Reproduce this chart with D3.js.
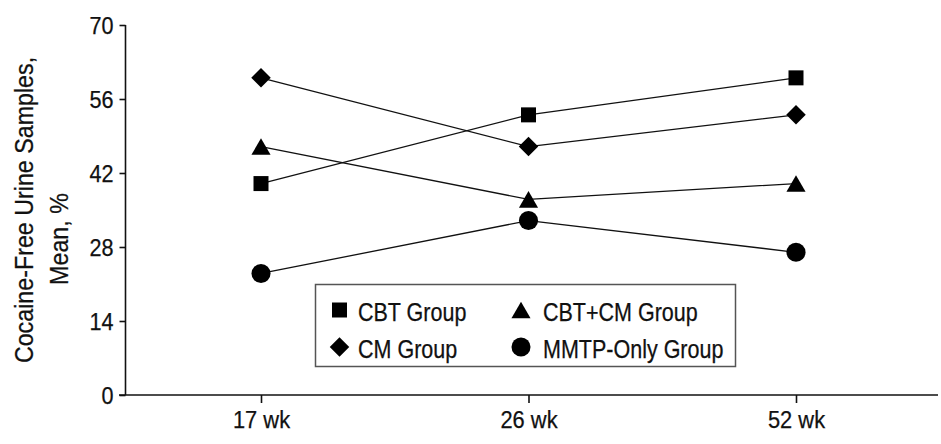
<!DOCTYPE html>
<html><head><meta charset="utf-8">
<script src="https://cdn.jsdelivr.net/npm/d3@7"></script>
<style>
body{margin:0;background:#fff;}
text{font-family:"Liberation Sans",Arial,sans-serif;fill:#111;stroke:#111;stroke-width:0.25px;}
</style></head>
<body><svg id="c" width="941" height="444"></svg>
<script>
const categories = ["17 wk", "26 wk", "52 wk"];
const seriesNames = ["CBT Group", "CM Group", "CBT+CM Group", "MMTP-Only Group"];
const cbt = [40, 53, 60];
const cm = [60, 47, 53];
const cbtcm = [47, 37, 40];
const mmtp = [23, 33, 27];
const yTicks = [0, 14, 28, 42, 56, 70];

const diamond = {draw(ctx, size){ const r = Math.sqrt(size/2); ctx.moveTo(0,-r); ctx.lineTo(r,0); ctx.lineTo(0,r); ctx.lineTo(-r,0); ctx.closePath(); }};

const series = [
  {name: seriesNames[0], values: cbt, sym: d3.symbolSquare, size: 225, dy: 0},
  {name: seriesNames[1], values: cm, sym: diamond, size: 190, dy: 0},
  {name: seriesNames[2], values: cbtcm, sym: d3.symbolTriangle, size: 158, dy: 2.7},
  {name: seriesNames[3], values: mmtp, sym: d3.symbolCircle, size: 285, dy: 0}
];

const svg = d3.select("#c");
const x = d3.scalePoint().domain(categories).range([261, 796]);
const y = d3.scaleLinear().domain([0, 70]).range([395, 25]);

function squeeze(sel, f){ sel.each(function(){ const w = this.getComputedTextLength(); d3.select(this).attr("textLength", w*f).attr("lengthAdjust","spacingAndGlyphs"); }); }

// axes
const ya = svg.append("g").attr("transform","translate(125.5,0)")
  .call(d3.axisLeft(y).tickValues(yTicks).tickSize(6).tickPadding(6));
ya.select(".domain").attr("stroke","#111").attr("stroke-width",1.6).attr("d","M0,25V395");
ya.selectAll(".tick line").attr("stroke","#111").attr("stroke-width",1.6);
ya.selectAll("text").style("font-size","24px").attr("fill","#111").attr("dy","0.36em");
squeeze(ya.selectAll("text"), 0.9);

const xa = svg.append("g").attr("transform","translate(0,395)")
  .call(d3.axisBottom(x).tickSize(8).tickPadding(8));
xa.select(".domain").attr("stroke","#111").attr("stroke-width",1.6).attr("d","M119,0H938");
xa.selectAll(".tick line").attr("stroke","#111").attr("stroke-width",1.6);
xa.selectAll("text").style("font-size","23.5px").attr("fill","#111");
squeeze(xa.selectAll("text"), 0.93);

// y label
const yl1 = svg.append("text").attr("transform","translate(33,210) rotate(-90)")
  .attr("text-anchor","middle").style("font-size","25px").text("Cocaine-Free Urine Samples,");
const yl2 = svg.append("text").attr("transform","translate(68,239) rotate(-90)")
  .attr("text-anchor","middle").style("font-size","25px").text("Mean, %");
squeeze(yl1, 0.93); squeeze(yl2, 0.93);

const line = d3.line().x((d,i)=>x(categories[i])).y(d=>y(d));
series.forEach(s=>{
  svg.append("path").attr("d", line(s.values)).attr("fill","none")
    .attr("stroke","#111").attr("stroke-width",1.3);
});
series.forEach(s=>{
  svg.selectAll(null).data(s.values).enter().append("path")
    .attr("d", d3.symbol().type(s.sym).size(s.size))
    .attr("transform",(d,i)=>`translate(${x(categories[i])},${y(d) + s.dy})`)
    .attr("fill","#000");
});

// legend
const lg = svg.append("g");
lg.append("rect").attr("x",315.5).attr("y",284.5).attr("width",420).attr("height",82)
  .attr("fill","#fff").attr("stroke","#555").attr("stroke-width",1.5);
const pos = [[339.5,310],[339.5,347],[521,310],[521,347]];
const toff = [18.5, 18.5, 22, 22];
const lsize = [225, 190, 158, 285];
const ldy = [0, 0, 2.7, 0];
series.forEach((s,i)=>{
  const [px,py] = pos[i];
  lg.append("path").attr("d", d3.symbol().type(s.sym).size(lsize[i]))
    .attr("transform",`translate(${px},${py+ldy[i]})`).attr("fill","#000");
  const t = lg.append("text").attr("x", px+toff[i]).attr("y", py+11).style("font-size","25px").text(s.name);
  squeeze(t, 0.86);
});
</script></body></html>
